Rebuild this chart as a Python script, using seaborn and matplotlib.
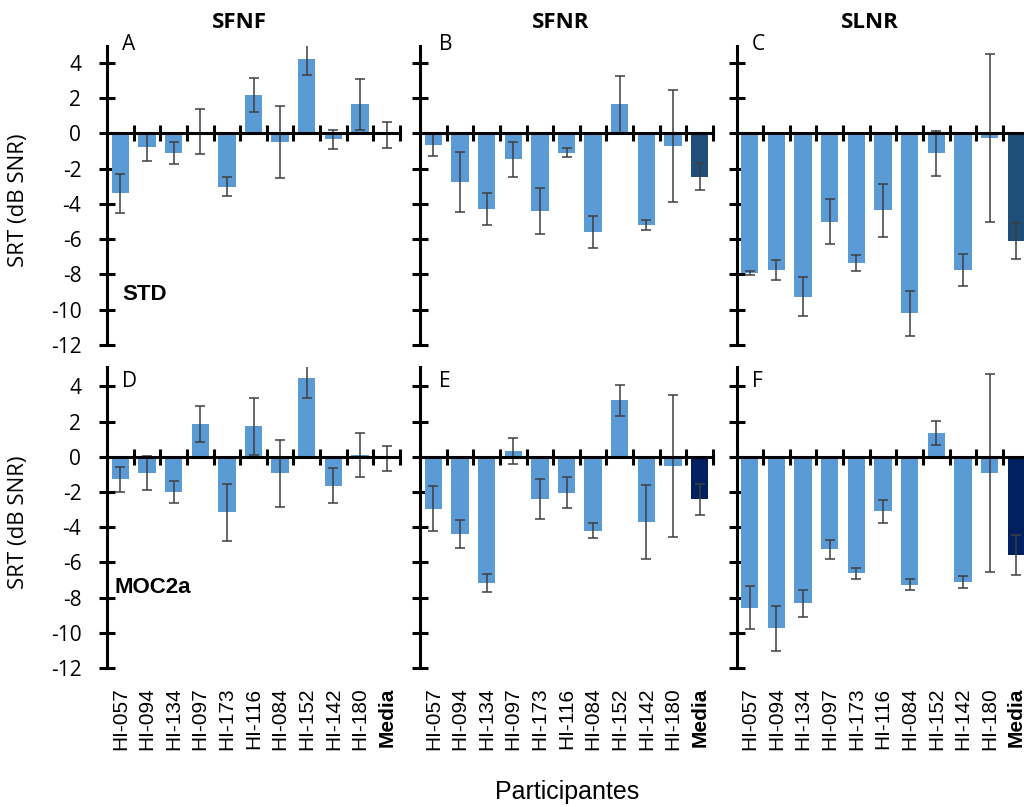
import matplotlib
matplotlib.use("Agg")
import matplotlib.pyplot as plt
import seaborn as sns
import numpy as np
import pandas as pd

# ---------------- data ----------------
participants = ["HI-057", "HI-094", "HI-134", "HI-097", "HI-173", "HI-116",
                "HI-084", "HI-152", "HI-142", "HI-180", "Media"]

conditions = ["SFNF", "SFNR", "SLNR"]
row_labels = ["STD", "MOC2a"]
panel_letters = ["A", "B", "C", "D", "E", "F"]

std_sfnf = [-3.4, -0.76, -1.13, 0.1, -3.02, 2.17, -0.51, 4.2, -0.34, 1.64, -0.1]
std_sfnf_err = [1.1, 0.8, 0.62, 1.3, 0.56, 0.95, 2.05, 0.9, 0.55, 1.45, 0.75]

std_sfnr = [-0.66, -2.78, -4.31, -1.47, -4.4, -1.1, -5.61, 1.64, -5.2, -0.72, -2.46]
std_sfnr_err = [0.62, 1.7, 0.9, 1.0, 1.3, 0.25, 0.9, 1.62, 0.28, 3.15, 0.78]

std_slnr = [-7.9, -7.75, -9.26, -5.0, -7.33, -4.35, -10.2, -1.13, -7.75, -0.28, -6.1]
std_slnr_err = [0.12, 0.55, 1.1, 1.3, 0.45, 1.5, 1.27, 1.27, 0.92, 4.75, 1.04]

moc_sfnf = [-1.29, -0.91, -1.99, 1.86, -3.16, 1.72, -0.95, 4.47, -1.65, 0.11, -0.1]
moc_sfnf_err = [0.72, 0.95, 0.62, 1.0, 1.6, 1.6, 1.9, 1.15, 1.0, 1.25, 0.72]

moc_sfnr = [-2.94, -4.39, -7.16, 0.32, -2.4, -2.03, -4.19, 3.2, -3.73, -0.53, -2.42]
moc_sfnr_err = [1.3, 0.8, 0.5, 0.75, 1.15, 0.88, 0.42, 0.87, 2.1, 4.04, 0.88]

moc_slnr = [-8.58, -9.75, -8.33, -5.25, -6.63, -3.09, -7.27, 1.36, -7.1, -0.91, -5.57]
moc_slnr_err = [1.23, 1.3, 0.78, 0.53, 0.33, 0.65, 0.3, 0.7, 0.35, 5.63, 1.13]

y_ticks = list(range(-12, 5, 2))

panels = [
    [(std_sfnf, std_sfnf_err), (std_sfnr, std_sfnr_err), (std_slnr, std_slnr_err)],
    [(moc_sfnf, moc_sfnf_err), (moc_sfnr, moc_sfnr_err), (moc_slnr, moc_slnr_err)],
]

# ---------------- style ----------------
sns.set_theme(style="white")
plt.rcParams["font.family"] = ["Open Sans", "DejaVu Sans"]
plt.rcParams["axes.unicode_minus"] = False

light_blue = "#5B9BD5"
media_colors = ["#1F4E79", "#002060"]
err_color = "#3F3F3F"

W, H = 1024, 807
fig = plt.figure(figsize=(W / 100, H / 100), dpi=100)


def px_axes(left, top, width, height):
    return fig.add_axes([left / W, 1 - (top + height) / H, width / W, height / H])


col_left = [107, 420, 736.5]
col_width = 293
rows_px = [(46, 299), (367, 301)]
row_ylim = [(-12, 4.95), (-12, 5.1)]

letter_pos = [(0.051, 0.985), (0.065, 0.985), (0.053, 0.985)]

for r in range(2):
    for c in range(3):
        vals, errs = panels[r][c]
        top, height = rows_px[r]
        ax = px_axes(col_left[c], top, col_width, height)
        df = pd.DataFrame({"Participante": participants, "SRT": vals})
        pal = [light_blue] * (len(participants) - 1) + [media_colors[r]]
        sns.barplot(data=df, x="Participante", y="SRT", hue="Participante",
                    palette=pal, legend=False, errorbar=None, width=0.65,
                    saturation=1, linewidth=0, ax=ax)
        ax.errorbar(np.arange(len(participants)), vals, yerr=errs, fmt="none",
                    ecolor=err_color, elinewidth=1.1, capsize=3.5, capthick=1.1)

        ax.set_xlim(-0.5, len(participants) - 0.5)
        ax.set_ylim(*row_ylim[r])
        ax.set_xlabel("")
        ax.set_ylabel("")

        for side in ["right", "bottom"]:
            ax.spines[side].set_visible(False)
        ax.spines["left"].set_linewidth(2.2)
        ax.spines["left"].set_color("black")
        ax.spines["top"].set_position(("data", 0))
        ax.spines["top"].set_linewidth(2.2)
        ax.spines["top"].set_color("black")

        ax.set_yticks(y_ticks)
        ax.tick_params(axis="y", which="major", direction="inout", length=11,
                       width=2.2, color="black", left=True, pad=13,
                       labelleft=(c == 0), labelsize=15, labelcolor="black")

        ax.set_xticks(np.arange(len(participants)))
        ax.set_xticks(np.arange(0.5, len(participants), 1), minor=True)
        ax.tick_params(axis="x", which="minor", direction="inout", length=12,
                       width=2.2, color="black", top=True, bottom=False)
        ax.tick_params(axis="x", which="major", length=0, top=False,
                       bottom=True, labeltop=False, labelbottom=(r == 1),
                       pad=14)
        if r == 1:
            ax.set_xticklabels(participants, rotation=90, fontsize=15,
                               family="Liberation Sans", color="black")
            ax.get_xticklabels()[-1].set_fontweight("bold")

        lx, ly = letter_pos[c]
        if r == 1:
            ly = 0.934
        ax.text(lx, ly, panel_letters[r * 3 + c], transform=ax.transAxes,
                fontsize=15, ha="left", va="baseline", color="black")

        if c == 0:
            if r == 0:
                ax.text(0.051, 0.15, row_labels[r], transform=ax.transAxes,
                        fontsize=16, fontweight="bold", family="Liberation Sans",
                        ha="left", va="baseline", color="black")
            else:
                ax.text(0.027, 0.249, row_labels[r], transform=ax.transAxes,
                        fontsize=16, fontweight="bold", family="Liberation Sans",
                        ha="left", va="baseline", color="black")

# column titles
for title, x in zip(conditions, [239, 561, 870]):
    fig.text(x / W, 1 - 23 / H, title, ha="center", va="center",
             fontsize=16, fontweight="bold", color="black")

# row y labels
for yc in [200, 522]:
    fig.text(19 / W, 1 - yc / H, "SRT (dB SNR)", rotation=90, ha="center",
             va="center", fontsize=16, color="black")

fig.text(567 / W, 1 - 792 / H, "Participantes", ha="center", va="center",
         fontsize=18, family="Liberation Sans", color="black")

fig.savefig("out.png", dpi=100)
